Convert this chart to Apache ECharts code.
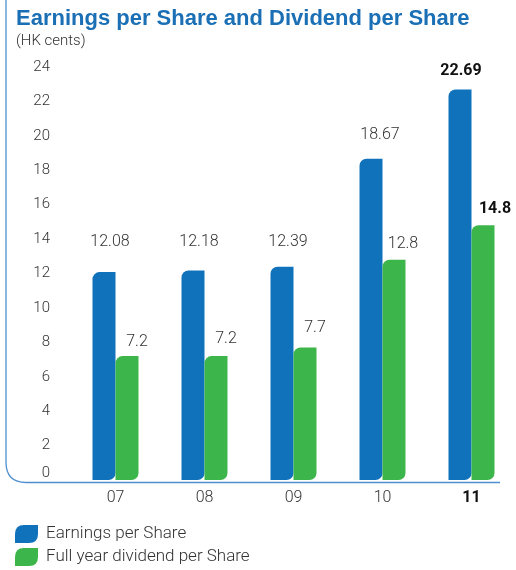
<!DOCTYPE html>
<html><head><meta charset="utf-8">
<script src="https://cdn.jsdelivr.net/npm/echarts@6/dist/echarts.min.js"></script>
<style>html,body{margin:0;padding:0;background:#fff}#c{width:516px;height:570px}</style>
</head><body><div id="c"></div>
<script>
var categories = ['07', '08', '09', '10', '11'];
var epsValues = [12.08, 12.18, 12.39, 18.67, 22.69];
var dpsValues = [7.2, 7.2, 7.7, 12.8, 14.8];
var seriesNames = ['Earnings per Share', 'Full year dividend per Share'];
var yMin = 0, yMax = 24, yStep = 2;

// label placement tweaks (style only)
var epsLabelDist = [22, 20, 17, 16, 11];
var epsLabelDx = [6, 6, 6, 9, 1];
var dpsLabelDist = [6, 9, 11, 8, 8];
var dpsLabelDx = [10, 10, 10, 9, 12];

var BLUE = '#1172bc', GREEN = '#3cb54b';
var FONT = 'Roboto';
var last = categories.length - 1;

function mk(vals, dists, dxs) {
  return vals.map(function (v, i) {
    var bold = i === last;
    return {
      value: v,
      label: {
        distance: dists[i], offset: [dxs[i], 0],
        fontWeight: bold ? 'bold' : 300,
        color: bold ? '#111' : '#333'
      }
    };
  });
}
var leaf = 'path://M0,9 Q0,0 9,0 L23,0 L23,9 Q23,18 14,18 L0,18 Z';
var frameStyle = { fill: 'none', stroke: '#4d8fcf', lineWidth: 1.3 };
var legendText = { fontFamily: FONT, fontSize: 17, color: '#333', fontWeight: 300, padding: [0, 0, 0, 3] };
var chart = echarts.init(document.getElementById('c'));
chart.setOption({
  animation: false,
  title: {
    text: 'Earnings per Share and Dividend per Share',
    subtext: '(HK cents)',
    left: 11, top: 3, itemGap: 4,
    textStyle: { fontFamily: 'Liberation Sans', fontSize: 22, fontWeight: 'bold', color: '#1a6fb5' },
    subtextStyle: { fontFamily: FONT, fontSize: 15, color: '#333', fontWeight: 300 }
  },
  grid: { left: 71, right: 0, top: 67, bottom: 90, containLabel: false },
  legend: [
    { left: 10, top: 520, itemWidth: 23, itemHeight: 18, itemGap: 4, textStyle: legendText,
      data: [{ name: seriesNames[0], icon: leaf }] },
    { left: 10, top: 543, itemWidth: 23, itemHeight: 18, itemGap: 4, textStyle: legendText,
      data: [{ name: seriesNames[1], icon: leaf }] }
  ],
  xAxis: {
    type: 'category',
    data: categories.map(function (c, i) {
      return i === last ? { value: c, textStyle: { fontWeight: 'bold', color: '#111' } } : c;
    }),
    axisLine: { show: false }, axisTick: { show: false },
    axisLabel: { fontFamily: FONT, fontSize: 16, color: '#333', margin: 10, fontWeight: 300 }
  },
  yAxis: {
    type: 'value', min: yMin, max: yMax, interval: yStep,
    splitLine: { show: false }, axisLine: { show: false }, axisTick: { show: false },
    axisLabel: {
      fontFamily: FONT, fontSize: 15, color: '#333', margin: 21, fontWeight: 300,
      formatter: function (v) { return v === 0 ? '{z|0}' : String(v); },
      rich: { z: { fontFamily: FONT, fontSize: 15, color: '#333', fontWeight: 300, padding: [0, 0, 14, 0] } }
    }
  },
  graphic: [
    { type: 'polyline', silent: true, shape: { points: [[6, 0], [6, 462]] }, style: frameStyle },
    { type: 'bezierCurve', silent: true, shape: { x1: 6, y1: 462, cpx1: 6, cpy1: 482.5, x2: 26, y2: 482.5 }, style: frameStyle },
    { type: 'polyline', silent: true, shape: { points: [[26, 482.5], [500, 482.5]] }, style: frameStyle }
  ],
  series: [
    {
      name: seriesNames[0], type: 'bar', barWidth: 23, barGap: '0%',
      itemStyle: { color: BLUE, borderRadius: [7, 0, 7, 0] },
      label: { show: true, position: 'top', fontFamily: FONT, fontSize: 16 },
      data: mk(epsValues, epsLabelDist, epsLabelDx)
    },
    {
      name: seriesNames[1], type: 'bar', barWidth: 23, barGap: '0%',
      itemStyle: { color: GREEN, borderRadius: [7, 0, 7, 0] },
      label: { show: true, position: 'top', fontFamily: FONT, fontSize: 16 },
      data: mk(dpsValues, dpsLabelDist, dpsLabelDx)
    }
  ]
});
</script></body></html>
